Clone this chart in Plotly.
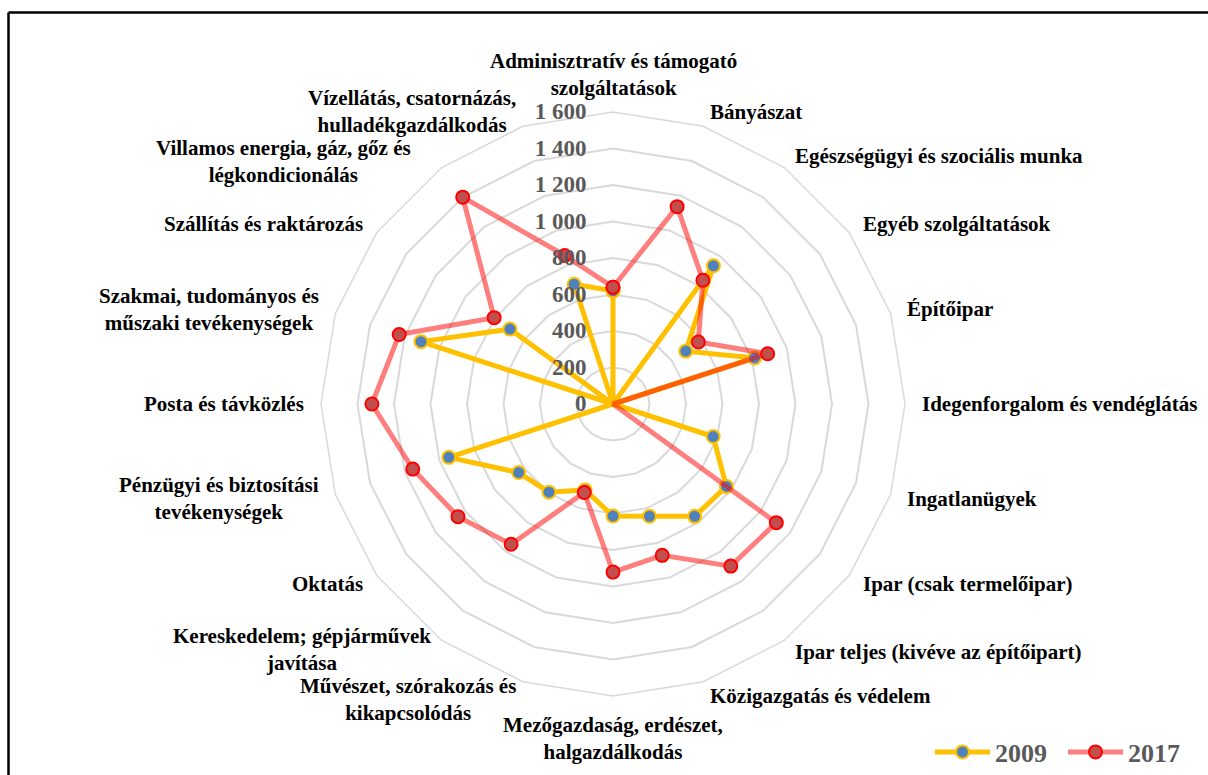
import math
import plotly.graph_objects as go

# Ágazatok (radar kategóriák), óramutató járásával egyezően, felülről indulva
categories = [
    'Adminisztratív és támogató<br>szolgáltatások',
    'Bányászat',
    'Egészségügyi és szociális munka',
    'Egyéb szolgáltatások',
    'Építőipar',
    'Idegenforgalom és vendéglátás',
    'Ingatlanügyek',
    'Ipar (csak termelőipar)',
    'Ipar teljes (kivéve az építőipart)',
    'Közigazgatás és védelem',
    'Mezőgazdaság, erdészet,<br>halgazdálkodás',
    'Művészet, szórakozás és<br>kikapcsolódás',
    'Kereskedelem; gépjárművek<br>javítása',
    'Oktatás',
    'Pénzügyi és biztosítási<br>tevékenységek',
    'Posta és távközlés',
    'Szakmai, tudományos és<br>műszaki tevékenységek',
    'Szállítás és raktározás',
    'Villamos energia, gáz, gőz és<br>légkondicionálás',
    'Vízellátás, csatornázás,<br>hulladékgazdálkodás',
]

values_2009 = [620, 0, 936, 493, 816, 0, 577, 768, 761, 647,
               614, 495, 597, 639, 946, 0, 1106, 698, 0, 690]
values_2017 = [640, 1137, 838, 578, 891, 0, 0, 1106, 1098, 872,
               921, 510, 950, 1050, 1154, 1321, 1232, 805, 1401, 856]

radial_ticks = [0, 200, 400, 600, 800, 1000, 1200, 1400, 1600]
radial_ticktext = ['0', '200', '400', '600', '800', '1 000', '1 200', '1 400', '1 600']

SERIF = 'Liberation Serif, Times New Roman, serif'
GRID = '#d9d9d9'
W, H = 1208, 775
CX, CY, R = 613, 404, 292  # radar centre / outer radius in px
R_LABEL = 307              # category labels sit on this circle, Excel style
# small shifts (px) where Excel moved crowded labels
label_nudge = {0: (0, 5), 11: (0, 4), 12: (0, -3), 18: (-20, 6), 19: (0, -1)}

fig = go.Figure()

# close the polygons by repeating the first point
fig.add_trace(go.Scatterpolar(
    r=values_2009 + values_2009[:1],
    theta=categories + categories[:1],
    mode='lines+markers',
    name='2009',
    line=dict(color='#FFC000', width=5),
    marker=dict(size=13, color='#4F81BD', line=dict(color='#FFC000', width=2)),
))
fig.add_trace(go.Scatterpolar(
    r=values_2017 + values_2017[:1],
    theta=categories + categories[:1],
    mode='lines+markers',
    name='2017',
    line=dict(color='rgba(255,0,0,0.5)', width=5),
    marker=dict(size=13, color='#C0504D', line=dict(color='#FF0000', width=2)),
))

# category labels: centred text blocks around the radar
annotations = []
n = len(categories)
for i, label in enumerate(categories):
    a = 2 * math.pi * i / n
    s, c = math.sin(a), math.cos(a)
    dx, dy = label_nudge.get(i, (0, 0))
    px, py = CX + R_LABEL * s + dx, CY - R_LABEL * c + dy
    if abs(s) < 1e-9:
        xanchor, yanchor = 'center', ('bottom' if c > 0 else 'top')
    else:
        xanchor, yanchor = ('left' if s > 0 else 'right'), 'middle'
    annotations.append(dict(
        x=px / W, y=1 - py / H, xref='paper', yref='paper',
        text=label, showarrow=False, align='center',
        xanchor=xanchor, yanchor=yanchor,
        font=dict(family=SERIF, size=21, color='black', weight='bold'),
    ))

fig.update_layout(
    width=W, height=H,
    paper_bgcolor='white',
    margin=dict(l=0, r=0, t=0, b=0, autoexpand=False),
    font=dict(family=SERIF, color='black'),
    annotations=annotations,
    polar=dict(
        domain=dict(x=[(CX - R) / W, (CX + R) / W],
                    y=[1 - (CY + R) / H, 1 - (CY - R) / H]),
        gridshape='linear',
        bgcolor='white',
        angularaxis=dict(
            type='category',
            categoryarray=categories,
            rotation=90,
            direction='clockwise',
            showgrid=False,
            showline=True,
            linecolor=GRID,
            linewidth=1.5,
            ticks='',
            showticklabels=False,
        ),
        radialaxis=dict(
            range=[0, 1600],
            tickvals=radial_ticks,
            ticktext=radial_ticktext,
            angle=90,
            side='counterclockwise',
            tickangle=90,
            showline=False,
            ticks='outside',
            ticklen=18,
            tickcolor='rgba(0,0,0,0)',
            gridcolor=GRID,
            gridwidth=1.5,
            tickfont=dict(family=SERIF, size=23, color='#595959', weight='bold'),
        ),
    ),
    legend=dict(
        orientation='h',
        x=1196 / W, xanchor='right',
        y=1 - 752 / H, yanchor='middle',
        font=dict(family=SERIF, size=26, color='#595959', weight='bold'),
        itemwidth=55,
        entrywidth=63,
        entrywidthmode='pixels',
        bgcolor='rgba(0,0,0,0)',
    ),
    shapes=[
        dict(type='line', xref='paper', yref='paper',
             x0=8.5 / W, x1=1.02, y0=1 - 12.5 / H, y1=1 - 12.5 / H,
             line=dict(color='black', width=2.5)),
        dict(type='line', xref='paper', yref='paper',
             x0=8.5 / W, x1=8.5 / W, y0=-0.02, y1=1 - 12.5 / H,
             line=dict(color='black', width=2.5)),
    ],
)

# drop the default 8px page margin so the figure fills the window exactly
fig.write_html(
    'out.html',
    config={'displayModeBar': False},
    post_script="document.body.style.margin='0';"
                "document.documentElement.style.overflow='hidden';",
)
